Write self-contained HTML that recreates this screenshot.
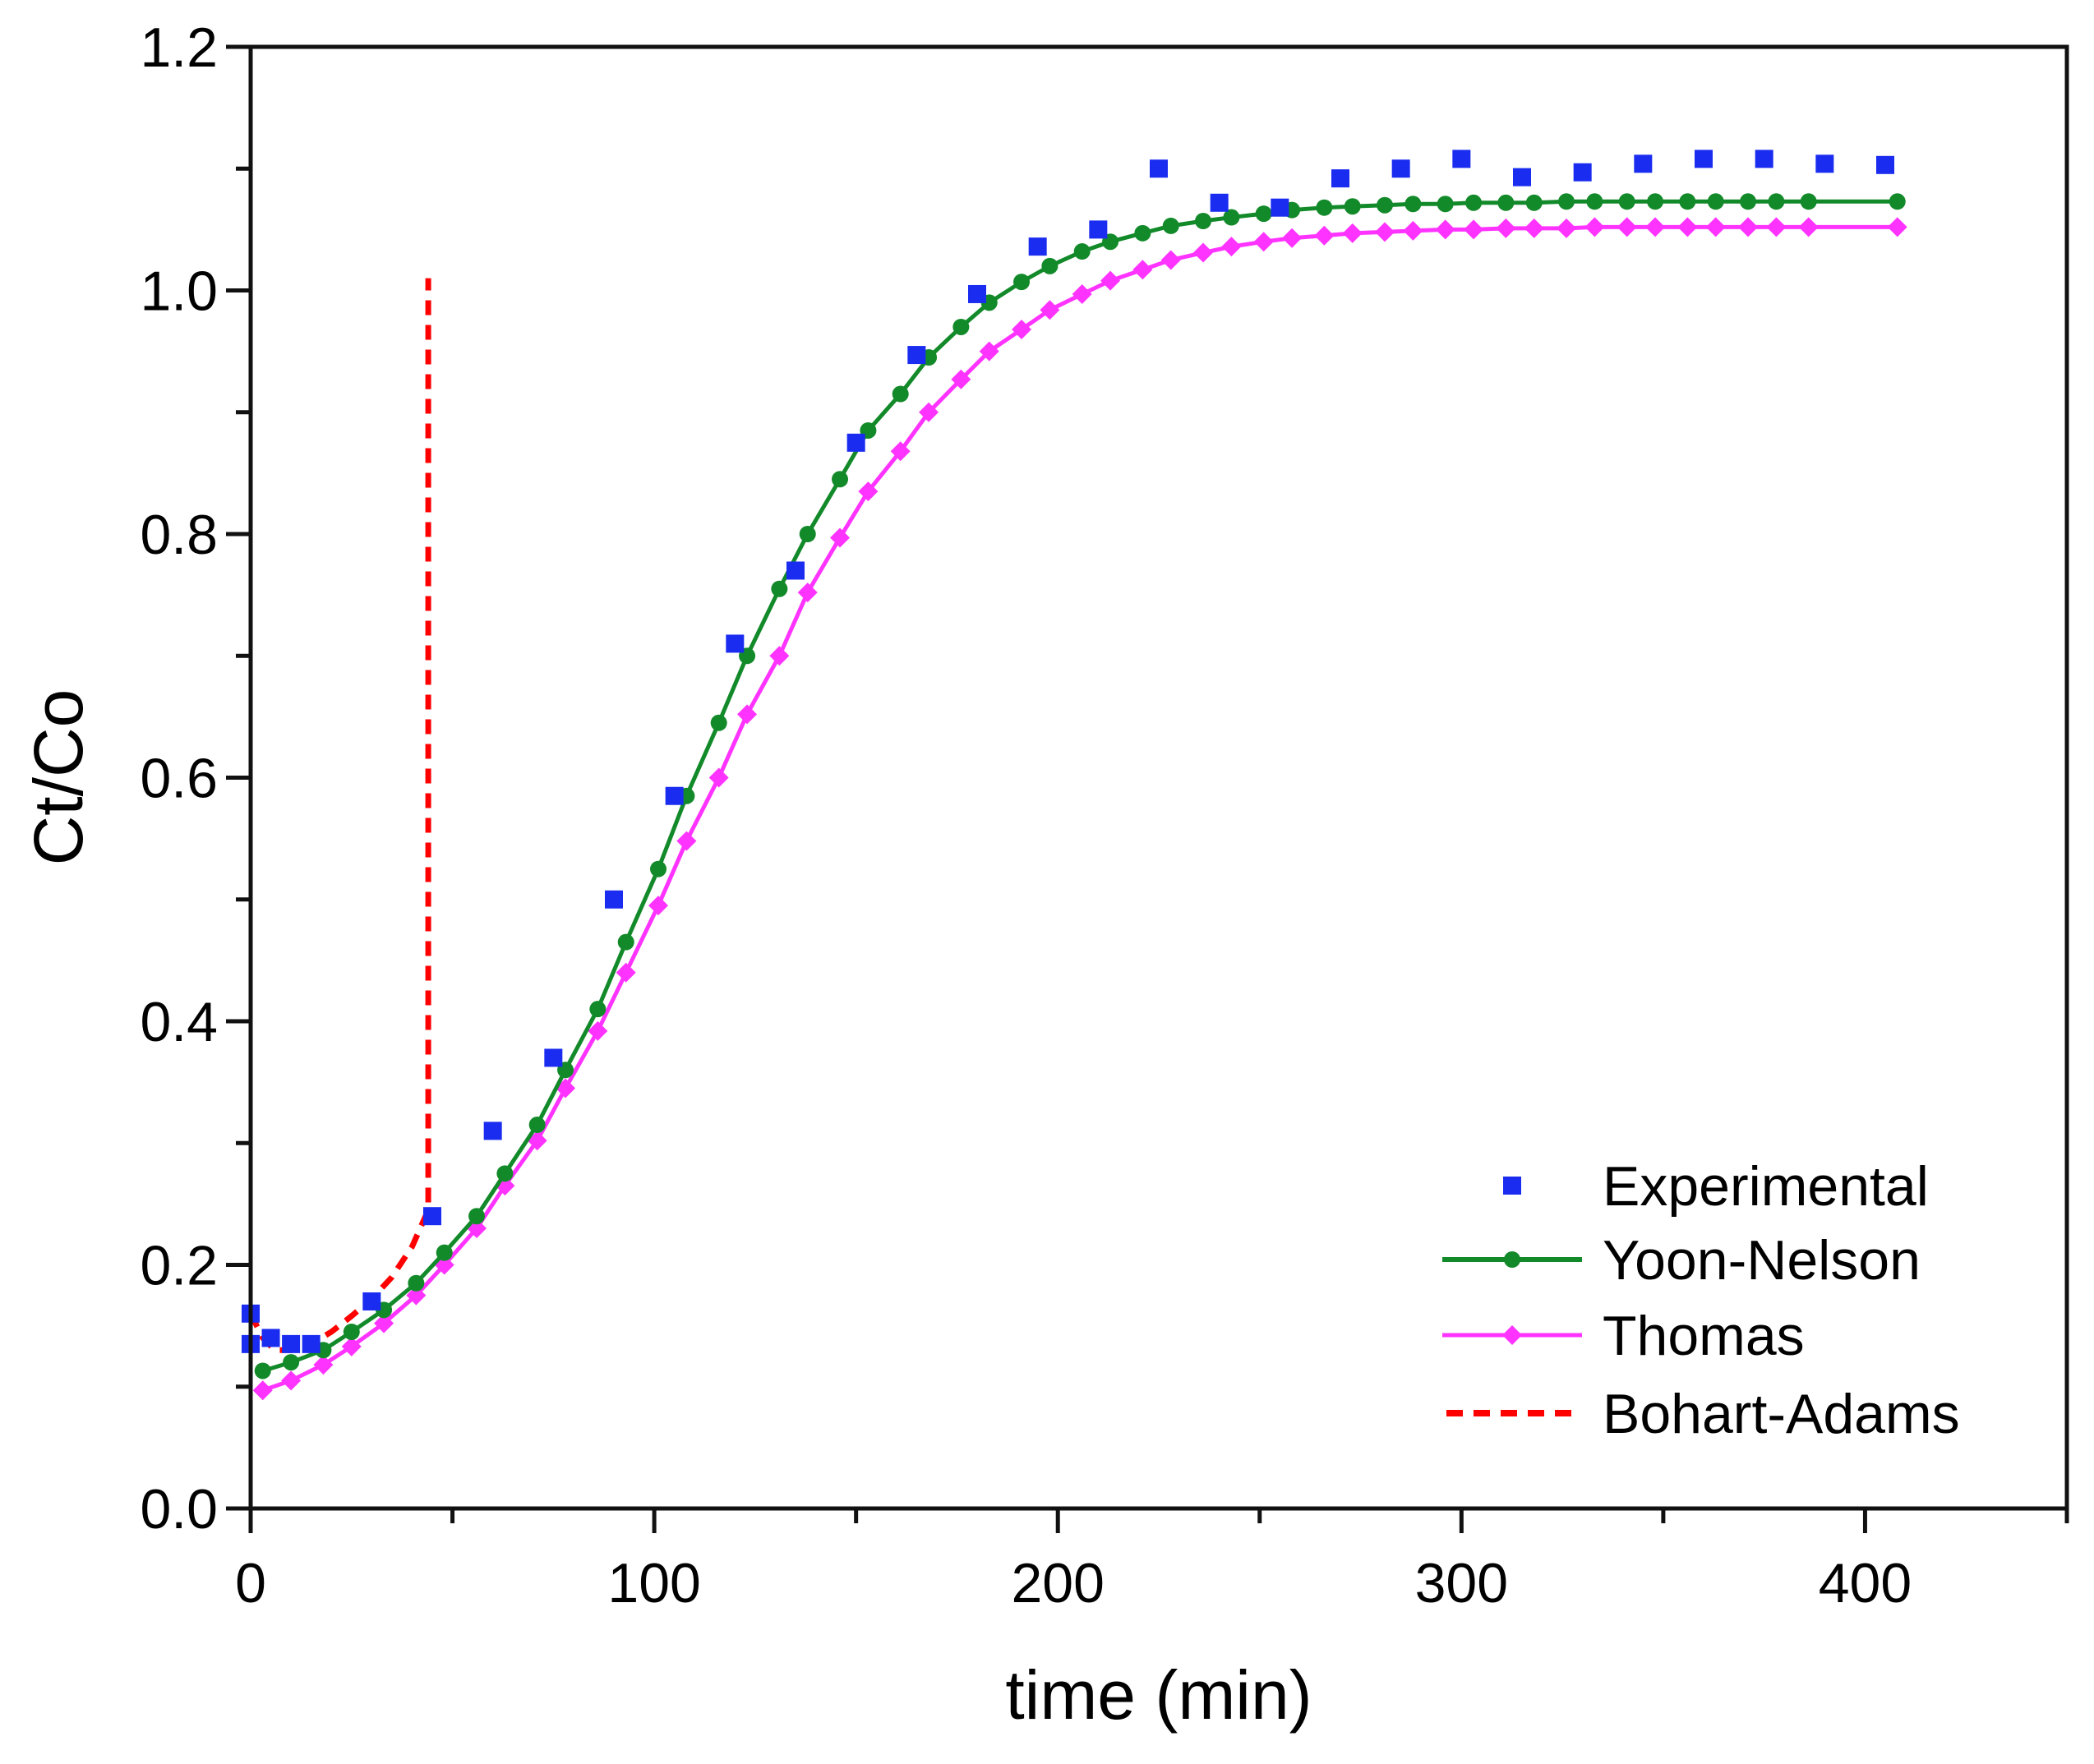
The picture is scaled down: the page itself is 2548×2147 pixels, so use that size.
<!DOCTYPE html>
<html><head><meta charset="utf-8"><style>
html,body{margin:0;padding:0;background:#fff;}
svg{display:block;font-family:"Liberation Sans",Arial,sans-serif;}
</style></head><body>
<svg id="chart" width="2548" height="2147" viewBox="0 0 2548 2147" xmlns="http://www.w3.org/2000/svg">
<rect x="0" y="0" width="2548" height="2147" fill="#fff"/>
<g id="marks"></g>
<g id="axes"></g>
<text x="1410" y="2092" font-size="84" text-anchor="middle">time (min)</text>
<text transform="translate(100,946) rotate(-90)" font-size="84" text-anchor="middle">Ct/Co</text>
<g id="legend"></g>
</svg>
<script>
const expT=[0,0,5,10,15,30,45,60,75,90,105,120,135,150,165,180,195,210,225,240,255,270,285,300,315,330,345,360,375,390,405];
const expY=[0.16,0.135,0.14,0.135,0.135,0.17,0.24,0.31,0.37,0.50,0.585,0.71,0.77,0.875,0.947,0.997,1.036,1.05,1.10,1.072,1.068,1.092,1.10,1.108,1.093,1.097,1.104,1.108,1.108,1.104,1.103];
const fitT=[3,10,18,25,33,41,48,56,63,71,78,86,93,101,108,116,123,131,138,146,153,161,168,176,183,191,198,206,213,221,228,236,243,251,258,266,273,281,288,296,303,311,318,326,333,341,348,356,363,371,378,386,408];
const ynY=[0.113,0.12,0.13,0.145,0.163,0.185,0.21,0.24,0.275,0.315,0.36,0.41,0.465,0.525,0.585,0.645,0.70,0.755,0.80,0.845,0.885,0.915,0.945,0.97,0.99,1.007,1.02,1.032,1.04,1.047,1.053,1.057,1.06,1.063,1.066,1.068,1.069,1.07,1.071,1.071,1.072,1.072,1.072,1.073,1.073,1.073,1.073,1.073,1.073,1.073,1.073,1.073,1.073];
const thY=[0.097,0.105,0.118,0.133,0.152,0.175,0.20,0.23,0.265,0.302,0.345,0.392,0.44,0.495,0.548,0.60,0.652,0.70,0.752,0.797,0.835,0.868,0.90,0.927,0.95,0.968,0.984,0.997,1.008,1.017,1.025,1.031,1.036,1.04,1.043,1.045,1.047,1.048,1.049,1.05,1.05,1.051,1.051,1.051,1.052,1.052,1.052,1.052,1.052,1.052,1.052,1.052,1.052];
const baT=[0,3,6,10,15,20,25,30,35,40,44,44];
const baY=[0.16,0.14,0.13,0.13,0.135,0.145,0.158,0.172,0.19,0.215,0.245,1.01];
const xTicks=[0,100,200,300,400];
const yTicks=[0.0,0.2,0.4,0.6,0.8,1.0,1.2];
const X0=305,X1=2515,Y0=1836,Y1=57,XMAX=450,YMAX=1.2;
const sx=v=>X0+(X1-X0)*v/XMAX, sy=v=>Y0-(Y0-Y1)*v/YMAX;
const NS="http://www.w3.org/2000/svg";
function mk(tag,attrs,parent){const e=document.createElementNS(NS,tag);for(const k in attrs)e.setAttribute(k,attrs[k]);parent.appendChild(e);return e;}
const marks=document.getElementById('marks'),axes=document.getElementById('axes'),leg=document.getElementById('legend');
let p=mk('polyline',{points:baT.map((t,i)=>sx(t)+','+sy(baY[i])).join(' '),fill:'none',stroke:'#ff0000','stroke-width':7,'stroke-dasharray':'18 12'},marks);


p=mk('polyline',{points:fitT.map((t,i)=>sx(t)+','+sy(thY[i])).join(' '),fill:'none',stroke:'#ff33ff','stroke-width':5},marks);


fitT.forEach((t,i)=>{const c=mk('path',{d:`M${sx(t)},${sy(thY[i])-12}l12,12l-12,12l-12,-12z`,fill:'#ff33ff'},marks);

});
p=mk('polyline',{points:fitT.map((t,i)=>sx(t)+','+sy(ynY[i])).join(' '),fill:'none',stroke:'#138a2a','stroke-width':5},marks);


fitT.forEach((t,i)=>{const c=mk('circle',{cx:sx(t),cy:sy(ynY[i]),r:10,fill:'#138a2a'},marks);

});
expT.forEach((t,i)=>{const r=mk('rect',{x:sx(t)-11,y:sy(expY[i])-11,width:22,height:22,fill:'#1a2cf0'},marks);

});
const fr=mk('rect',{x:X0,y:Y1,width:X1-X0,height:Y0-Y1,fill:'none',stroke:'#111','stroke-width':5},axes);


for(let v=0;v<=450;v+=50){const major=v%100===0;const l=mk('line',{x1:sx(v),x2:sx(v),y1:Y0,y2:Y0+(major?30:18),stroke:'#111','stroke-width':5},axes);

}
xTicks.forEach(v=>{const t=mk('text',{x:sx(v),y:Y0+114,'font-size':68,'text-anchor':'middle'},axes);t.textContent=String(v);

});
for(let k=0;k<=12;k++){const v=k*0.1;const major=k%2===0;const l=mk('line',{x1:X0,x2:X0-(major?30:18),y1:sy(v),y2:sy(v),stroke:'#111','stroke-width':5},axes);

}
yTicks.forEach(v=>{const t=mk('text',{x:X0-40,y:sy(v)+24,'font-size':68,'text-anchor':'end'},axes);t.textContent=v.toFixed(1);

});
const LX=1755,LX2=1925,TX=1950;
const rows=[['Experimental',1443],['Yoon-Nelson',1533],['Thomas',1625],['Bohart-Adams',1720]];
let e=mk('rect',{x:(LX+LX2)/2-11,y:rows[0][1]-11,width:22,height:22,fill:'#1a2cf0'},leg);


e=mk('line',{x1:LX,x2:LX2,y1:rows[1][1],y2:rows[1][1],stroke:'#138a2a','stroke-width':6},leg);


e=mk('circle',{cx:(LX+LX2)/2,cy:rows[1][1],r:10,fill:'#138a2a'},leg);


e=mk('line',{x1:LX,x2:LX2,y1:rows[2][1],y2:rows[2][1],stroke:'#ff33ff','stroke-width':5},leg);


e=mk('path',{d:`M${(LX+LX2)/2},${rows[2][1]-12}l12,12l-12,12l-12,-12z`,fill:'#ff33ff'},leg);


e=mk('line',{x1:LX+5,x2:LX2,y1:rows[3][1],y2:rows[3][1],stroke:'#ff0000','stroke-width':8,'stroke-dasharray':'20 13'},leg);


rows.forEach(r=>{const t=mk('text',{x:TX,y:r[1]+24,'font-size':68},leg);t.textContent=r[0];

});
</script>
</body></html>
